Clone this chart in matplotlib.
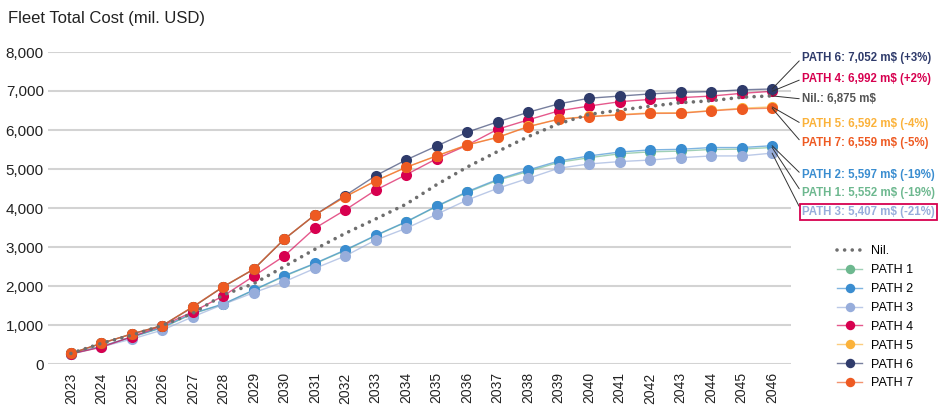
import matplotlib
matplotlib.use('Agg')
import matplotlib.pyplot as plt
from matplotlib.colors import to_rgba

plt.rcParams['font.family'] = ['Liberation Sans', 'DejaVu Sans']

# data (mil. USD)
years = list(range(2023, 2047))
nil = [270, 530, 740, 990, 1300, 1770, 2060, 2500, 2940, 3350, 3720, 4100,
       4600, 5050, 5450, 5830, 6160, 6400, 6510, 6610, 6700, 6750, 6840, 6875]
path1 = [260, 450, 690, 930, 1290, 1530, 1890, 2250, 2570, 2910, 3290, 3640,
         4040, 4400, 4710, 4940, 5170, 5290, 5390, 5440, 5460, 5500, 5510, 5552]
path2 = [260, 450, 690, 940, 1300, 1540, 1900, 2265, 2580, 2925, 3300, 3650,
         4050, 4420, 4735, 4975, 5205, 5335, 5435, 5490, 5505, 5550, 5550, 5597]
path3 = [250, 440, 640, 870, 1210, 1530, 1830, 2110, 2450, 2770, 3180, 3480,
         3840, 4205, 4505, 4760, 5020, 5130, 5190, 5230, 5290, 5335, 5335, 5407]
path4 = [260, 430, 700, 980, 1340, 1745, 2255, 2770, 3480, 3950, 4460, 4855,
         5265, 5610, 6020, 6260, 6490, 6615, 6725, 6785, 6830, 6870, 6940, 6992]
path5 = [270, 530, 770, 985, 1460, 1980, 2430, 3200, 3820, 4290, 4700, 5045,
         5340, 5620, 5815, 6090, 6280, 6350, 6395, 6440, 6440, 6500, 6560, 6592]
path6 = [270, 530, 770, 985, 1460, 1980, 2430, 3200, 3820, 4320, 4830, 5235,
         5590, 5945, 6210, 6455, 6670, 6815, 6870, 6925, 6965, 6985, 7030, 7052]
path7 = [270, 530, 770, 985, 1470, 1985, 2435, 3205, 3820, 4290, 4695, 5045,
         5335, 5615, 5810, 6085, 6275, 6340, 6385, 6425, 6430, 6490, 6540, 6559]

series = [
    ('PATH 1', path1, '#6DB88F'),
    ('PATH 2', path2, '#3A8DD0'),
    ('PATH 3', path3, '#97ADDB'),
    ('PATH 4', path4, '#D7004F'),
    ('PATH 5', path5, '#FBB23A'),
    ('PATH 6', path6, '#2F3B6B'),
    ('PATH 7', path7, '#EE5A22'),
]

# end labels: text, colour, y position in figure pixels (from top)
end_labels = [
    ('PATH 6: 7,052 m$ (+3%)', '#2F3B6B', 58, path6),
    ('PATH 4: 6,992 m$ (+2%)', '#D7004F', 79, path4),
    ('Nil.: 6,875 m$', '#555555', 99, nil),
    ('PATH 5: 6,592 m$ (-4%)', '#FBB23A', 124, path5),
    ('PATH 7: 6,559 m$ (-5%)', '#EE5A22', 143, path7),
    ('PATH 2: 5,597 m$ (-19%)', '#3A8DD0', 175, path2),
    ('PATH 1: 5,552 m$ (-19%)', '#6DB88F', 193, path1),
    ('PATH 3: 5,407 m$ (-21%)', '#97ADDB', 212, path3),
]

W, H = 950, 419
fig = plt.figure(figsize=(W / 100, H / 100), dpi=100)
ax = fig.add_axes([48 / W, 1 - 364 / H, (791 - 48) / W, (364 - 52) / H])

x = list(range(len(years)))
handles = []
h, = ax.plot(x, nil, linestyle=(0, (0.01, 2.1)), color='#6E6E6E', lw=2.6,
             dash_capstyle='round', zorder=5, label='Nil.')
handles.append(h)
for name, vals, col in series:
    h, = ax.plot(x, vals, color=to_rgba(col, 0.65), lw=1.0, marker='o',
                 markersize=8, markerfacecolor=col, markeredgecolor=col,
                 markeredgewidth=0, zorder=3, label=name)
    handles.append(h)

ax.set_xlim(-0.75, 23.62)
ax.set_ylim(0, 8000)
ax.set_yticks(range(0, 8001, 1000))
ax.set_yticklabels([f'{v:,}' for v in range(0, 8001, 1000)], fontsize=11,
                   color='#222222')
ax.set_xticks(x)
ax.set_xticklabels([str(y) for y in years], rotation=90, fontsize=10,
                   color='#222222')
ax.tick_params(axis='y', length=0, pad=3)
ax.tick_params(axis='x', length=0, pad=6)
ax.grid(axis='y', color='#D3D3D3', lw=1.5)
ax.set_axisbelow(True)
for s in ax.spines.values():
    s.set_visible(False)

fig.text(8 / W, 1 - 18 / H, 'Fleet Total Cost (mil. USD)', fontsize=12,
         color='#222222', va='center', ha='left')

for text, col, ypix, vals in end_labels:
    kw = {}
    if text.startswith('PATH 3'):
        kw['bbox'] = dict(boxstyle='square,pad=0.2', fc='white',
                          ec='#D7004F', lw=1.3)
    ax.annotate(text, xy=(23, vals[-1]), xycoords='data',
                xytext=(802, H - ypix), textcoords='figure pixels',
                ha='left', va='center', fontsize=8.3, fontweight='bold',
                color=col, annotation_clip=False,
                arrowprops=dict(arrowstyle='-', color='#333333', lw=0.7,
                                shrinkA=0, shrinkB=0, relpos=(0, 0.5)),
                zorder=6, **kw)

fig.legend(handles=handles, loc='upper left',
           bbox_to_anchor=(831 / W, 1 - 239 / H), frameon=False,
           fontsize=9, handlelength=2.0, handletextpad=0.7,
           labelspacing=0.55, borderpad=0, markerscale=0.85)

fig.savefig('out.png', dpi=100, facecolor='white')
